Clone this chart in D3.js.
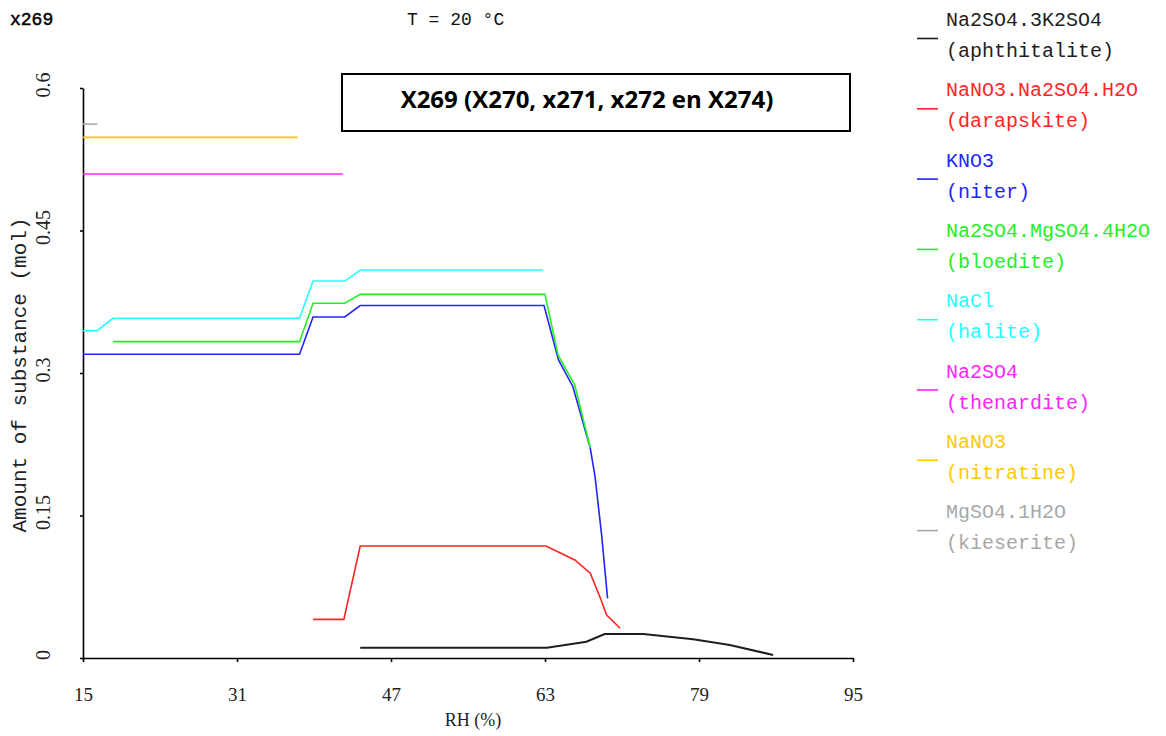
<!DOCTYPE html>
<html>
<head>
<meta charset="utf-8">
<script src="https://cdn.jsdelivr.net/npm/d3@7"></script>
<style>
	body { margin: 0; background: #fff; }
	svg { display: block; }
	text { font-family: "Liberation Mono", "DejaVu Sans Mono", monospace; }
</style>
</head>
<body>
<div id="chart"></div>
<script>

// RH (%) / amount of substance (mol)
var aphthitalite = [[43.8, 0.0108], [63.2, 0.0108], [67.3, 0.0172], [69.2, 0.0253], [73.2, 0.0253], [78.4, 0.0197], [82.2, 0.0137], [86.7, 0.0032]];
var darapskite = [[38.9, 0.0407], [42.1, 0.0407], [43.8, 0.1179], [63.1, 0.1179], [66.1, 0.1032], [67.7, 0.0892], [68.7, 0.0645], [69.4, 0.0453], [70.8, 0.0313]];
var niter = [[15, 0.3197], [37.5, 0.3197], [38.9, 0.359], [42.2, 0.359], [43.8, 0.371], [62.9, 0.371], [64.4, 0.3137], [65.9, 0.2856], [67.7, 0.221], [68.2, 0.191], [68.9, 0.1277], [69.5, 0.0628]];
var bloedite = [[18.1, 0.333], [37.5, 0.333], [38.9, 0.3734], [42.2, 0.3734], [43.8, 0.3828], [63.0, 0.3828], [64.35, 0.319], [66.1, 0.287], [67.7, 0.221]];
var halite = [[15, 0.3445], [16.5, 0.3445], [18.1, 0.3576], [37.5, 0.3576], [38.9, 0.3968], [42.2, 0.3968], [43.8, 0.4084], [62.8, 0.4084]];
var thenardite = [[15, 0.5095], [42.0, 0.5095]];
var nitratine = [[15, 0.548], [37.3, 0.548]];
var kieserite = [[15, 0.562], [16.5, 0.562]];

var formulas = ["Na2SO4.3K2SO4", "NaNO3.Na2SO4.H2O", "KNO3", "Na2SO4.MgSO4.4H2O", "NaCl", "Na2SO4", "NaNO3", "MgSO4.1H2O"];
var minerals = ["(aphthitalite)", "(darapskite)", "(niter)", "(bloedite)", "(halite)", "(thenardite)", "(nitratine)", "(kieserite)"];
var xTicks = [15, 31, 47, 63, 79, 95];
var yTicks = [0, 0.15, 0.3, 0.45, 0.6];

var colors = ["#1e1e1e", "#ff2424", "#2424ff", "#24ee24", "#24ffff", "#ff24ff", "#ffc800", "#a8a8a8"];
var series = [aphthitalite, darapskite, niter, bloedite, halite, thenardite, nitratine, kieserite];

var svg = d3.select("#chart")
	.append("svg")
	.attr("width", 1166)
	.attr("height", 736);

var x = d3.scaleLinear().domain([15, 95]).range([83, 853]);
var y = d3.scaleLinear().domain([0, 0.6]).range([658, 88]);

// axes
var xAxis = svg.append("g")
	.attr("transform", "translate(0,658)")
	.call(d3.axisBottom(x).tickValues(xTicks).tickSize(4).tickSizeOuter(0).tickPadding(26));
xAxis.selectAll("text")
	.style("font-family", "'Liberation Serif', serif")
	.style("font-size", "19px")
	.attr("fill", "#222");

var yAxis = svg.append("g")
	.attr("transform", "translate(83,0)")
	.call(d3.axisLeft(y).tickValues(yTicks).tickSize(3).tickSizeOuter(0).tickFormat(""));

svg.selectAll(".domain, .tick line")
	.attr("stroke", "#000")
	.attr("stroke-width", 1.6);

// rotated y tick labels
svg.selectAll("text.ylab")
	.data(yTicks)
	.enter()
		.append("text")
		.attr("class", "ylab")
		.attr("transform", function(d) {
			return "translate(50," + (y(d) - 3) + ") rotate(-90)";
		})
		.attr("text-anchor", "middle")
		.style("font-family", "'Liberation Serif', serif")
		.style("font-size", "20px")
		.attr("fill", "#222")
		.text(function(d) { return d; });

// axis titles
svg.append("text")
	.attr("x", 473)
	.attr("y", 726)
	.attr("text-anchor", "middle")
	.style("font-family", "'Liberation Serif', serif")
	.style("font-size", "18px")
	.attr("fill", "#222")
	.text("RH (%)");

svg.append("text")
	.attr("transform", "translate(26,375) rotate(-90)")
	.attr("text-anchor", "middle")
	.style("font-size", "21px")
	.attr("fill", "#222")
	.text("Amount of substance (mol)");

// header texts
svg.append("text")
	.attr("x", 10)
	.attr("y", 25)
	.style("font-size", "18px")
	.attr("fill", "#000")
	.attr("stroke", "#000")
	.attr("stroke-width", 0.5)
	.text("x269");

svg.append("text")
	.attr("x", 407)
	.attr("y", 25)
	.style("font-size", "18px")
	.attr("fill", "#111")
	.text("T = 20 °C");

// curves
var line = d3.line()
	.x(function(d) { return x(d[0]); })
	.y(function(d) { return y(d[1]); });

svg.selectAll("path.curve")
	.data(series)
	.enter()
		.append("path")
		.attr("class", "curve")
		.attr("d", line)
		.attr("fill", "none")
		.attr("stroke", function(d, i) { return colors[i]; })
		.attr("stroke-width", function(d, i) { return i === 0 ? 2 : 1.6; });

// title box
svg.append("rect")
	.attr("x", 342)
	.attr("y", 74)
	.attr("width", 508)
	.attr("height", 57)
	.attr("fill", "#fff")
	.attr("stroke", "#000")
	.attr("stroke-width", 2);

svg.append("text")
	.attr("x", 587)
	.attr("y", 108)
	.attr("text-anchor", "middle")
	.style("font-family", "'Open Sans', 'Liberation Sans', sans-serif")
	.style("font-size", "24px")
	.style("font-weight", "bold")
	.attr("fill", "#000")
	.text("X269 (X270, x271, x272 en X274)");

// legend
var legend = svg.selectAll("g.legend")
	.data(formulas)
	.enter()
		.append("g")
		.attr("class", "legend")
		.attr("transform", function(d, i) { return "translate(0," + (i * 70.3) + ")"; });

legend.append("line")
	.attr("x1", 917)
	.attr("x2", 938)
	.attr("y1", 38.5)
	.attr("y2", 38.5)
	.attr("stroke", function(d, i) { return colors[i]; })
	.attr("stroke-width", 1.6);

legend.append("text")
	.attr("x", 946)
	.attr("y", 26)
	.style("font-size", "20px")
	.attr("fill", function(d, i) { return colors[i]; })
	.text(function(d) { return d; });

legend.append("text")
	.attr("x", 946)
	.attr("y", 57)
	.style("font-size", "20px")
	.attr("fill", function(d, i) { return colors[i]; })
	.text(function(d, i) { return minerals[i]; });

</script>
</body>
</html>
